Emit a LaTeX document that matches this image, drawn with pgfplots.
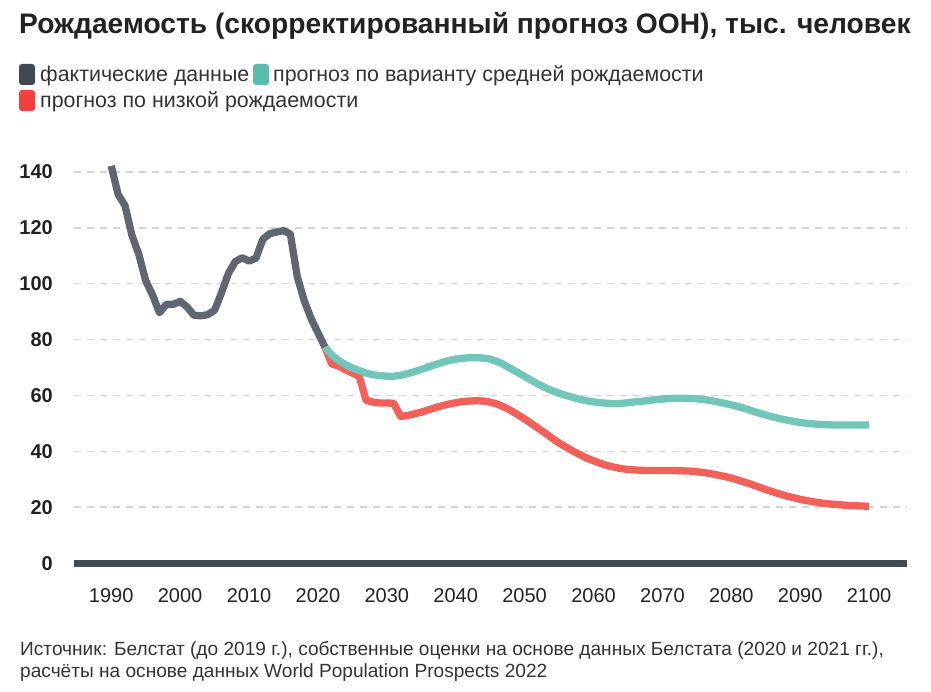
\documentclass[border=0pt]{standalone}
\usepackage{fontspec}
\setmainfont{Liberation Sans}
\usepackage{pgfplots}
\pgfplotsset{compat=1.18}
\definecolor{cgray}{HTML}{5E6771}
\definecolor{cteal}{HTML}{72C5B9}
\definecolor{cred}{HTML}{F2605A}
\definecolor{lgray}{HTML}{3E4954}
\definecolor{lteal}{HTML}{5BBBAD}
\definecolor{lred}{HTML}{F0403B}
\definecolor{axisc}{HTML}{3F4A55}
\definecolor{gridc}{HTML}{D4D4D4}
\definecolor{txt}{HTML}{222222}
\definecolor{txt2}{HTML}{333333}
\begin{document}
\begin{tikzpicture}[x=1pt,y=1pt]
\useasboundingbox (0,0) rectangle (931,691);
\node[anchor=base west, inner sep=0pt, text=txt, font=\bfseries\fontsize{28.2}{32}\selectfont] at (19,657) {Рождаемость (скорректированный прогноз ООН), тыс. человек};
% legend
\fill[lgray, rounded corners=3pt] (19,606) rectangle (35,627);
\node[anchor=base west, inner sep=0pt, text=txt2, font=\fontsize{21.4}{25}\selectfont] at (40,609) {фактические данные};
\fill[lteal, rounded corners=3pt] (253,606) rectangle (269,627);
\node[anchor=base west, inner sep=0pt, text=txt2, font=\fontsize{21.4}{25}\selectfont] at (273,609) {прогноз по варианту средней рождаемости};
\fill[lred, rounded corners=3pt] (19,580) rectangle (35,601);
\node[anchor=base west, inner sep=0pt, text=txt2, font=\fontsize{21.4}{25}\selectfont] at (40,583) {прогноз по низкой рождаемости};
% source
\node[anchor=base west, inner sep=0pt, text=txt2, font=\fontsize{19.1}{23}\selectfont] at (20,36) {Источник: Белстат (до 2019 г.), собственные оценки на основе данных Белстата (2020 и 2021 гг.),};
\node[anchor=base west, inner sep=0pt, text=txt2, font=\fontsize{19.1}{23}\selectfont] at (20,14) {расчёты на основе данных World Population Prospects 2022};
\begin{axis}[
  at={(74pt,128pt)}, anchor=south west, scale only axis,
  width=833pt, height=391pt,
  xmin=1984.6, xmax=2105.5, ymin=0, ymax=140,
  axis line style={draw=none}, tick style={draw=none},
  clip=false,
  xtick={1990,2000,...,2100},
  ytick={0,20,...,140},
  ymajorgrids, grid style={gridc, line width=1.4pt, dash pattern=on 7pt off 6pt},
  extra y ticks={0}, extra y tick labels={},
  extra y tick style={grid style={solid, axisc, line width=7pt}},
  /pgf/number format/assume math mode=true,
  /pgf/number format/1000 sep={},
  xticklabel style={inner sep=0pt, anchor=base, yshift=-39pt, font=\fontsize{20}{24}\selectfont, text=txt},
  yticklabel style={inner sep=0pt, anchor=base east, xshift=-21pt, yshift=-7pt, font=\bfseries\fontsize{20}{24}\selectfont, text=txt},
  every axis plot/.append style={line width=7.3pt, line join=round, line cap=butt},
]
\addplot[cred] coordinates {
(2021,77.4)(2022,71.3)(2023,70.5)(2024,69.2)(2025,68.0)(2026,66.8)(2027,58.2)(2028,57.6)(2029,57.3)(2030,57.3)
(2031,57.2)(2032,52.5)(2033,52.8)(2034,53.4)(2035,54.0)(2036,54.8)(2037,55.6)(2038,56.3)(2039,56.9)(2040,57.4)
(2041,57.8)(2042,58.0)(2043,58.1)(2044,58.0)(2045,57.6)(2046,56.9)(2047,55.9)(2048,54.6)(2049,53.1)(2050,51.6)
(2051,49.9)(2052,48.2)(2053,46.5)(2054,44.7)(2055,43.0)(2056,41.5)(2057,40.1)(2058,38.8)(2059,37.6)(2060,36.6)
(2061,35.7)(2062,34.9)(2063,34.3)(2064,33.8)(2065,33.5)(2066,33.3)(2067,33.2)(2068,33.1)(2069,33.1)(2070,33.1)
(2071,33.1)(2072,33.1)(2073,33.0)(2074,32.9)(2075,32.7)(2076,32.4)(2077,32.0)(2078,31.5)(2079,31.0)(2080,30.4)
(2081,29.7)(2082,28.9)(2083,28.1)(2084,27.2)(2085,26.3)(2086,25.5)(2087,24.7)(2088,24.0)(2089,23.4)(2090,22.8)
(2091,22.3)(2092,21.9)(2093,21.5)(2094,21.2)(2095,21.0)(2096,20.8)(2097,20.6)(2098,20.5)(2099,20.4)(2100,20.3)
};
\addplot[cteal] coordinates {
(2021,77.4)(2022,74.5)(2023,72.5)(2024,71.0)(2025,69.8)(2026,68.9)(2027,68.0)(2028,67.4)(2029,67.1)(2030,66.9)
(2031,66.9)(2032,67.2)(2033,67.8)(2034,68.5)(2035,69.3)(2036,70.2)(2037,71.0)(2038,71.8)(2039,72.5)(2040,73.0)
(2041,73.3)(2042,73.5)(2043,73.5)(2044,73.4)(2045,73.0)(2046,72.2)(2047,71.0)(2048,69.6)(2049,68.2)(2050,66.8)
(2051,65.4)(2052,64.0)(2053,62.8)(2054,61.7)(2055,60.8)(2056,60.0)(2057,59.3)(2058,58.6)(2059,58.1)(2060,57.7)
(2061,57.4)(2062,57.2)(2063,57.0)(2064,57.1)(2065,57.4)(2066,57.7)(2067,57.9)(2068,58.2)(2069,58.5)(2070,58.7)
(2071,58.9)(2072,59.0)(2073,59.0)(2074,58.9)(2075,58.8)(2076,58.5)(2077,58.2)(2078,57.7)(2079,57.2)(2080,56.6)
(2081,56.0)(2082,55.3)(2083,54.5)(2084,53.7)(2085,53.0)(2086,52.3)(2087,51.7)(2088,51.2)(2089,50.7)(2090,50.3)
(2091,50.0)(2092,49.8)(2093,49.6)(2094,49.5)(2095,49.4)(2096,49.4)(2097,49.4)(2098,49.4)(2099,49.4)(2100,49.4)
};
\addplot[cgray] coordinates {
(1990,142.2)(1991,132.0)(1992,128.0)(1993,117.4)(1994,110.6)(1995,101.1)(1996,96.0)(1997,89.6)(1998,92.6)(1999,92.6)
(2000,93.7)(2001,91.7)(2002,88.7)(2003,88.5)(2004,88.9)(2005,90.5)(2006,96.7)(2007,103.6)(2008,107.9)(2009,109.3)
(2010,108.1)(2011,109.1)(2012,115.9)(2013,117.9)(2014,118.5)(2015,119.0)(2016,117.8)(2017,102.6)(2018,94.0)(2019,87.6)
(2020,82.5)(2021,77.4)
};
\end{axis}
\end{tikzpicture}
\end{document}
